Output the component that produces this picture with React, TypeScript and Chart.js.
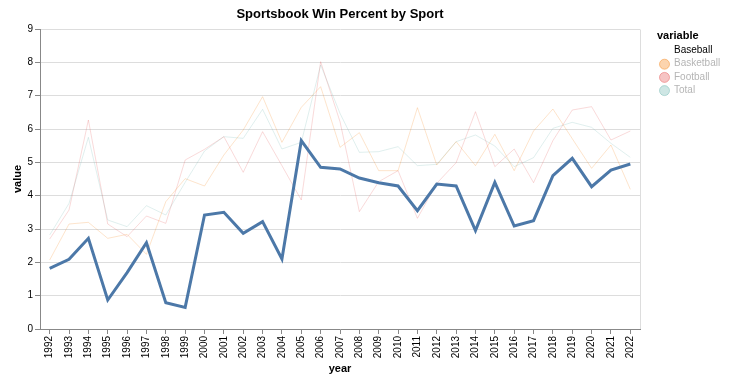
import React, { useEffect, useRef } from "react";
import { Chart, registerables } from "chart.js";

Chart.register(...registerables);

const years = [
  "1992","1993","1994","1995","1996","1997","1998","1999","2000","2001",
  "2002","2003","2004","2005","2006","2007","2008","2009","2010","2011",
  "2012","2013","2014","2015","2016","2017","2018","2019","2020","2021","2022",
];

const baseball = [1.82,2.09,2.72,0.87,1.69,2.59,0.79,0.65,3.42,3.5,2.87,3.22,2.1,5.65,4.85,4.8,4.53,4.39,4.29,3.55,4.35,4.29,2.95,4.4,3.09,3.25,4.6,5.12,4.27,4.77,4.95];
const basketball = [2.07,3.15,3.2,2.72,2.84,2.24,3.82,4.51,4.29,5.22,5.97,6.97,5.6,6.65,7.27,5.45,5.89,4.75,4.75,6.64,4.92,5.62,4.9,5.84,4.75,5.94,6.6,5.71,4.82,5.52,4.19];
const football = [2.7,3.57,6.27,3.15,2.77,3.39,3.17,5.07,5.39,5.77,4.7,5.92,4.9,3.87,8.02,6.22,3.52,4.42,4.75,3.32,4.37,4.99,6.52,4.87,5.4,4.39,5.65,6.57,6.67,5.67,5.94];
const total = [2.82,3.77,5.75,3.27,3.07,3.7,3.42,4.4,5.34,5.77,5.72,6.59,5.4,5.6,7.92,6.47,5.3,5.32,5.47,4.9,4.94,5.62,5.82,5.49,4.87,5.14,6.02,6.2,6.05,5.57,5.15];

const seriesNames = ["Baseball", "Basketball", "Football", "Total"];
const seriesColors = ["#4c78a8", "#f58518", "#e45756", "#72b7b2"];
const yTicks = [0, 1, 2, 3, 4, 5, 6, 7, 8, 9];

const FONT = '"Liberation Sans", Arial, Helvetica, sans-serif';

function rgba(hex: string, a: number) {
  const r = parseInt(hex.slice(1, 3), 16);
  const g = parseInt(hex.slice(3, 5), 16);
  const b = parseInt(hex.slice(5, 7), 16);
  return `rgba(${r},${g},${b},${a})`;
}

const decorPlugin = {
  id: "decor",
  beforeDatasetsDraw(chart: any) {
    const { ctx, chartArea } = chart;
    ctx.save();
    ctx.strokeStyle = "#dddddd";
    ctx.lineWidth = 1;
    ctx.beginPath();
    ctx.moveTo(Math.round(chartArea.right) + 0.5, Math.round(chartArea.top) + 0.5);
    ctx.lineTo(Math.round(chartArea.right) + 0.5, Math.round(chartArea.bottom));
    ctx.stroke();
    ctx.restore();
  },
  afterDraw(chart: any) {
    const { ctx, chartArea } = chart;
    ctx.save();
    const cx = (chartArea.left + chartArea.right) / 2;
    // title
    ctx.fillStyle = "#000";
    ctx.font = `bold 13px ${FONT}`;
    ctx.textAlign = "center";
    ctx.textBaseline = "alphabetic";
    ctx.fillText("Sportsbook Win Percent by Sport", cx, 18);
    // x title
    ctx.font = `bold 11px ${FONT}`;
    ctx.fillText("year", cx, 372);
    // y title
    ctx.save();
    ctx.translate(21, (chartArea.top + chartArea.bottom) / 2);
    ctx.rotate(-Math.PI / 2);
    ctx.fillText("value", 0, 0);
    ctx.restore();
    // legend
    ctx.textAlign = "left";
    ctx.font = `bold 11px ${FONT}`;
    ctx.fillText("variable", 657, 39);
    ctx.font = `10px ${FONT}`;
    ctx.textBaseline = "middle";
    seriesNames.forEach((name, i) => {
      const y = 50.5 + i * 13.2;
      if (i === 0) {
        ctx.fillStyle = "#000";
        ctx.fillText(name, 674, y);
      } else {
        ctx.beginPath();
        ctx.arc(664.5, y + 0.5, 5, 0, Math.PI * 2);
        ctx.fillStyle = rgba(seriesColors[i], 0.35);
        ctx.fill();
        ctx.strokeStyle = rgba(seriesColors[i], 0.45);
        ctx.lineWidth = 1;
        ctx.stroke();
        ctx.fillStyle = "#b5b5b5";
        ctx.fillText(name, 674, y);
      }
    });
    ctx.restore();
  },
};

export default function App() {
  const ref = useRef<HTMLCanvasElement | null>(null);
  useEffect(() => {
    document.body.style.margin = "0";
    const canvas = ref.current!;
    const values = [baseball, basketball, football, total];
    const chart = new Chart(canvas, {
      type: "line",
      data: {
        labels: years,
        datasets: seriesNames.map((name, i) => ({
          label: name,
          data: values[i],
          borderColor: i === 0 ? seriesColors[0] : rgba(seriesColors[i], 0.22),
          backgroundColor: seriesColors[i],
          borderWidth: i === 0 ? 3 : 1,
          pointRadius: 0,
          pointHoverRadius: 0,
          tension: 0,
          fill: false,
          order: i === 0 ? 0 : 1,
        })),
      },
      options: {
        animation: false,
        responsive: false,
        maintainAspectRatio: false,
        layout: { padding: { top: 29, right: 94, left: 0, bottom: 0 } },
        plugins: {
          legend: { display: false },
          title: { display: false },
          tooltip: { enabled: false },
        },
        scales: {
          x: {
            type: "category",
            offset: true,
            afterFit(scale: any) {
              scale.height = 54;
            },
            grid: {
              display: true,
              drawOnChartArea: false,
              tickLength: 5,
              tickColor: "#888888",
              offset: false,
            },
            border: { color: "#888888", width: 1 },
            ticks: {
              autoSkip: false,
              maxRotation: 90,
              minRotation: 90,
              padding: 2,
              color: "#000",
              font: { family: FONT, size: 10 },
            },
          },
          y: {
            min: 0,
            max: 9,
            afterFit(scale: any) {
              scale.width = 40;
            },
            afterBuildTicks(scale: any) {
              scale.ticks = yTicks.map((v) => ({ value: v }));
            },
            grid: {
              color: "#dddddd",
              tickLength: 5,
              tickColor: "#888888",
            },
            border: { color: "#888888", width: 1 },
            ticks: {
              padding: 2,
              color: "#000",
              font: { family: FONT, size: 10 },
            },
          },
        },
      },
      plugins: [decorPlugin],
    });
    return () => chart.destroy();
  }, []);
  return (
    <div style={{ position: "absolute", left: 0, top: 0, width: 734, height: 383 }}>
      <canvas ref={ref} width={734} height={383} style={{ width: 734, height: 383 }} />
    </div>
  );
}
